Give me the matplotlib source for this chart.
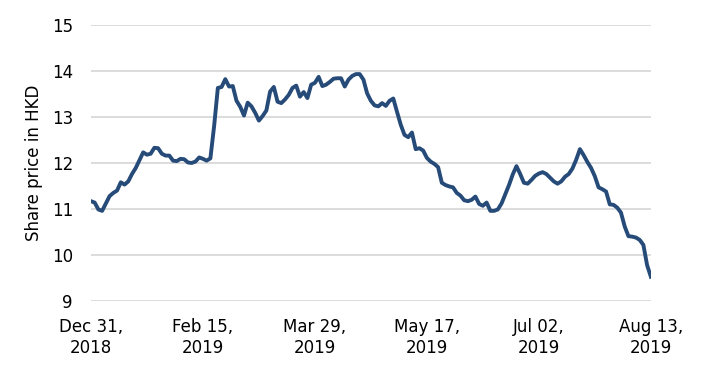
import matplotlib
matplotlib.use("Agg")
import matplotlib.pyplot as plt

# daily closing share price (HKD), Dec 31 2018 .. Aug 13 2019
price = [
    11.17, 11.14, 10.99, 10.96, 11.12, 11.28, 11.35, 11.40, 11.58, 11.53,
    11.60, 11.76, 11.89, 12.06, 12.23, 12.18, 12.20, 12.33, 12.32, 12.20,
    12.16, 12.16, 12.05, 12.04, 12.09, 12.08, 12.01, 12.00, 12.03, 12.12,
    12.09, 12.05, 12.10, 12.80, 13.63, 13.65, 13.82, 13.66, 13.67, 13.35,
    13.22, 13.03, 13.31, 13.23, 13.09, 12.92, 13.02, 13.14, 13.55, 13.65,
    13.33, 13.30, 13.38, 13.48, 13.63, 13.68, 13.44, 13.54, 13.41, 13.70,
    13.74, 13.87, 13.67, 13.70, 13.76, 13.83, 13.84, 13.84, 13.66, 13.81,
    13.89, 13.93, 13.93, 13.81, 13.51, 13.35, 13.25, 13.23, 13.30, 13.24,
    13.35, 13.40, 13.11, 12.83, 12.61, 12.56, 12.66, 12.30, 12.32, 12.27,
    12.11, 12.03, 11.98, 11.91, 11.57, 11.52, 11.49, 11.47, 11.35, 11.29,
    11.19, 11.17, 11.20, 11.27, 11.11, 11.07, 11.14, 10.96, 10.96, 10.99,
    11.12, 11.32, 11.52, 11.75, 11.93, 11.76, 11.57, 11.55, 11.63, 11.72,
    11.77, 11.80, 11.76, 11.68, 11.60, 11.55, 11.60, 11.70, 11.76, 11.88,
    12.07, 12.30, 12.17, 12.02, 11.89, 11.71, 11.47, 11.43, 11.38, 11.10,
    11.09, 11.03, 10.92, 10.62, 10.41, 10.40, 10.38, 10.33, 10.22, 9.78,
    9.53,
]
tick_pos = [0, 30, 60, 90, 120, 150]
tick_labels = ["Dec 31,\n2018", "Feb 15,\n2019", "Mar 29,\n2019",
               "May 17,\n2019", "Jul 02,\n2019", "Aug 13,\n2019"]
y_ticks = [9, 10, 11, 12, 13, 14, 15]

plt.rcParams['font.family'] = ['DejaVu Sans']
fontsize = 12

fig = plt.figure(figsize=(7.16, 3.88), dpi=100)
ax = fig.add_axes([0.127, 0.224, 0.782, 0.712])

ax.plot(range(len(price)), price, color='#264b79', lw=2.8, solid_joinstyle='round', zorder=3)

ax.set_xlim(0, 150)
ax.set_ylim(9, 15)
ax.set_yticks(y_ticks)
ax.set_xticks(tick_pos)
ax.set_xticklabels(tick_labels, linespacing=1.25)
ax.tick_params(axis='both', length=0, labelsize=fontsize, colors='black')
ax.tick_params(axis='y', pad=13)
ax.tick_params(axis='x', pad=12)
ax.grid(axis='y', color='#d9d9d9', lw=1.3)
ax.set_axisbelow(True)
for s in ax.spines.values():
    s.set_visible(False)

ax.set_ylabel('Share price in HKD', fontsize=fontsize, labelpad=6)

fig.savefig('out.png', dpi=100)
